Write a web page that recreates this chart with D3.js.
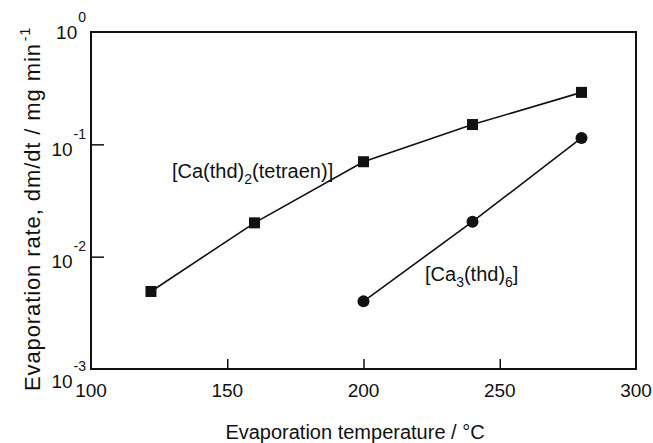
<!DOCTYPE html>
<html>
<head>
<meta charset="utf-8">
<script src="https://cdn.jsdelivr.net/npm/d3@7"></script>
<style>
  body { margin: 0; background: #fff; }
  svg text { font-family: "Liberation Sans", Arial, sans-serif; fill: #111; }
</style>
</head>
<body>
<script>
  // data
  var tempsTetraen = [122, 160, 200, 240, 280];
  var ratesTetraen = [0.0049, 0.020, 0.070, 0.150, 0.290];
  var tempsTrimer = [200, 240, 280];
  var ratesTrimer = [0.0040, 0.0205, 0.114];

  var xTicks = [100, 150, 200, 250, 300];
  var yTicks = [1e-3, 1e-2, 1e-1, 1e0];
  var yExponents = ['-3', '-2', '-1', '0'];

  var w = 653;
  var h = 443;
  // plot frame edges in px (note: "top" would clash with window.top)
  var plotL = 91, plotR = 636, plotT = 32, plotB = 369;

  var svg = d3
    .select('body')
    .append('svg')
    .attr('width', w)
    .attr('height', h);

  var xScale = d3.scaleLinear().domain([100, 300]).range([plotL, plotR]);
  var yScale = d3.scaleLog().domain([1e-3, 1]).range([plotB, plotT]);

  // inward ticks, no labels (labels are drawn below)
  var xAxis = d3.axisBottom(xScale).tickValues(xTicks.slice(1, -1)).tickSize(-10).tickFormat('');
  svg
    .append('g')
    .attr('class', 'x axis')
    .attr('transform', `translate(0, ${plotB})`)
    .call(xAxis)
    .call(g => g.select('.domain').remove())
    .selectAll('line')
    .attr('stroke', '#111')
    .attr('stroke-width', 1.5);

  var yAxis = d3.axisLeft(yScale).tickValues(yTicks.slice(1, -1)).tickSize(-13).tickFormat('');
  svg
    .append('g')
    .attr('class', 'y axis')
    .attr('transform', `translate(${plotL}, 0)`)
    .call(yAxis)
    .call(g => g.select('.domain').remove())
    .selectAll('line')
    .attr('stroke', '#111')
    .attr('stroke-width', 1.5);

  // frame
  svg
    .append('rect')
    .attr('x', plotL)
    .attr('y', plotT)
    .attr('width', plotR - plotL)
    .attr('height', plotB - plotT)
    .attr('fill', 'none')
    .attr('stroke', '#111')
    .attr('stroke-width', 2);

  // x tick labels
  svg
    .selectAll('.xlab')
    .data(xTicks)
    .enter()
    .append('text')
    .attr('class', 'xlab')
    .attr('x', d => xScale(d))
    .attr('y', plotB + 28)
    .attr('text-anchor', 'middle')
    .style('font-size', '19px')
    .text(d => d);

  // y tick labels as 10^n; the bottom one sits a bit below its tick, like the original
  var nudge = [12, 4, 5, 0];
  var ylab = svg
    .selectAll('.ylab')
    .data(yTicks)
    .enter()
    .append('text')
    .attr('class', 'ylab')
    .attr('x', 86)
    .attr('y', (d, i) => yScale(d) + 7 + nudge[i])
    .attr('text-anchor', 'end')
    .style('font-size', '19px');
  ylab.append('tspan').text('10');
  ylab
    .append('tspan')
    .attr('dx', 1)
    .attr('dy', -17)
    .style('font-size', '14px')
    .text((d, i) => yExponents[i]);

  // axis titles
  svg
    .append('text')
    .attr('x', 355)
    .attr('y', 439)
    .attr('text-anchor', 'middle')
    .style('font-size', '20px')
    .text('Evaporation temperature / °C');

  var yTitle = svg
    .append('text')
    .attr('transform', 'translate(40, 209) rotate(-90)')
    .attr('text-anchor', 'middle')
    .style('font-size', '22px')
    .style('letter-spacing', '0.9px');
  yTitle.append('tspan').text('Evaporation rate, dm/dt / mg min');
  yTitle.append('tspan').attr('dx', 2).attr('dy', -10).style('font-size', '14px').text('-1');

  var line = d3
    .line()
    .x(d => xScale(d[0]))
    .y(d => yScale(d[1]));

  var tetraen = d3.zip(tempsTetraen, ratesTetraen);
  var trimer = d3.zip(tempsTrimer, ratesTrimer);

  svg
    .append('g')
    .selectAll('path')
    .data([tetraen, trimer])
    .enter()
    .append('path')
    .attr('d', line)
    .attr('fill', 'none')
    .attr('stroke', '#111')
    .attr('stroke-width', 1.6);

  var sq = 11;
  svg
    .append('g')
    .selectAll('rect')
    .data(tetraen)
    .enter()
    .append('rect')
    .attr('x', d => xScale(d[0]) - sq / 2)
    .attr('y', d => yScale(d[1]) - sq / 2)
    .attr('width', sq)
    .attr('height', sq)
    .attr('fill', '#111');

  svg
    .append('g')
    .selectAll('circle')
    .data(trimer)
    .enter()
    .append('circle')
    .attr('cx', d => xScale(d[0]))
    .attr('cy', d => yScale(d[1]))
    .attr('r', 6)
    .attr('fill', '#111');

  // series labels
  var lab1 = svg
    .append('text')
    .attr('x', 172)
    .attr('y', 178)
    .style('font-size', '20px');
  lab1.append('tspan').text('[Ca(thd)');
  lab1.append('tspan').attr('dy', 6).style('font-size', '14px').text('2');
  lab1.append('tspan').attr('dy', -6).text('(tetraen)]');

  var lab2 = svg
    .append('text')
    .attr('x', 425)
    .attr('y', 281)
    .style('font-size', '20px');
  lab2.append('tspan').text('[Ca');
  lab2.append('tspan').attr('dy', 6).style('font-size', '14px').text('3');
  lab2.append('tspan').attr('dy', -6).text('(thd)');
  lab2.append('tspan').attr('dy', 6).style('font-size', '14px').text('6');
  lab2.append('tspan').attr('dy', -6).text(']');
</script>
</body>
</html>
